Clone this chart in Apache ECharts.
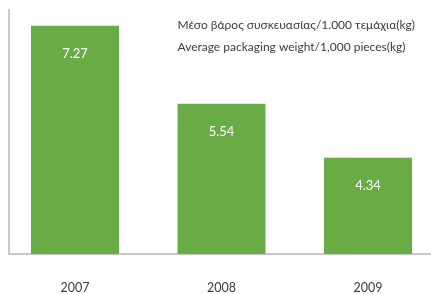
<!DOCTYPE html>
<html>
<head>
<meta charset="utf-8">
<script src="https://cdn.jsdelivr.net/npm/echarts@6/dist/echarts.min.js"></script>
<style>
  html, body { margin: 0; padding: 0; background: #fff; }
  #chart { width: 431px; height: 294px; }
</style>
</head>
<body>
<div id="chart"></div>
<script>
// data
const years = ['2007', '2008', '2009']
const weights = [7.27, 5.54, 4.34]
const titleGr = 'Μέσο βάρος συσκευασίας/1.000 τεμάχια(kg)'
const titleEn = 'Average packaging weight/1,000 pieces(kg)'

const green = '#69ac45'
const axisGray = '#c8c8c8'
const font = 'Lato, "Open Sans", sans-serif'

const chart = echarts.init(document.getElementById('chart'))

chart.setOption({
  animation: false,
  title: {
    text: titleGr,
    subtext: titleEn,
    right: 16,
    top: 19,
    padding: 0,
    itemGap: 10,
    textStyle: { fontFamily: font, fontSize: 12, fontWeight: 'normal', color: '#3c3c3c' },
    subtextStyle: { fontFamily: font, fontSize: 12, color: '#3c3c3c' }
  },
  grid: [
    // bars, the last band runs a bit past the right edge
    { left: 1.75, top: 10, right: -10.25, bottom: 40, outerBoundsMode: 'none' },
    // axis lines only
    { left: 9, top: 10, right: 0, bottom: 40, outerBoundsMode: 'none' }
  ],
  xAxis: [
    {
      type: 'category',
      gridIndex: 0,
      data: years,
      axisLine: { show: false },
      axisTick: { show: false },
      axisLabel: { margin: 27, fontFamily: font, fontSize: 12.5, color: '#3c3c3c' }
    },
    {
      type: 'category',
      gridIndex: 1,
      data: [],
      axisLine: { lineStyle: { color: axisGray, width: 2 } },
      axisTick: { show: false },
      axisLabel: { show: false }
    }
  ],
  yAxis: [
    {
      type: 'value',
      gridIndex: 0,
      min: 2.2,
      max: 7.62,
      show: false,
      splitLine: { show: false }
    },
    {
      type: 'value',
      gridIndex: 1,
      axisLine: { show: true, lineStyle: { color: axisGray, width: 2 } },
      axisTick: { show: false },
      axisLabel: { show: false },
      splitLine: { show: false }
    }
  ],
  series: [
    {
      type: 'bar',
      xAxisIndex: 0,
      yAxisIndex: 0,
      data: weights,
      barWidth: 88,
      clip: true,
      itemStyle: { color: green },
      label: {
        show: true,
        position: 'insideTop',
        distance: 22,
        fontFamily: font,
        fontSize: 13,
        color: '#fff'
      }
    }
  ]
})
</script>
</body>
</html>
